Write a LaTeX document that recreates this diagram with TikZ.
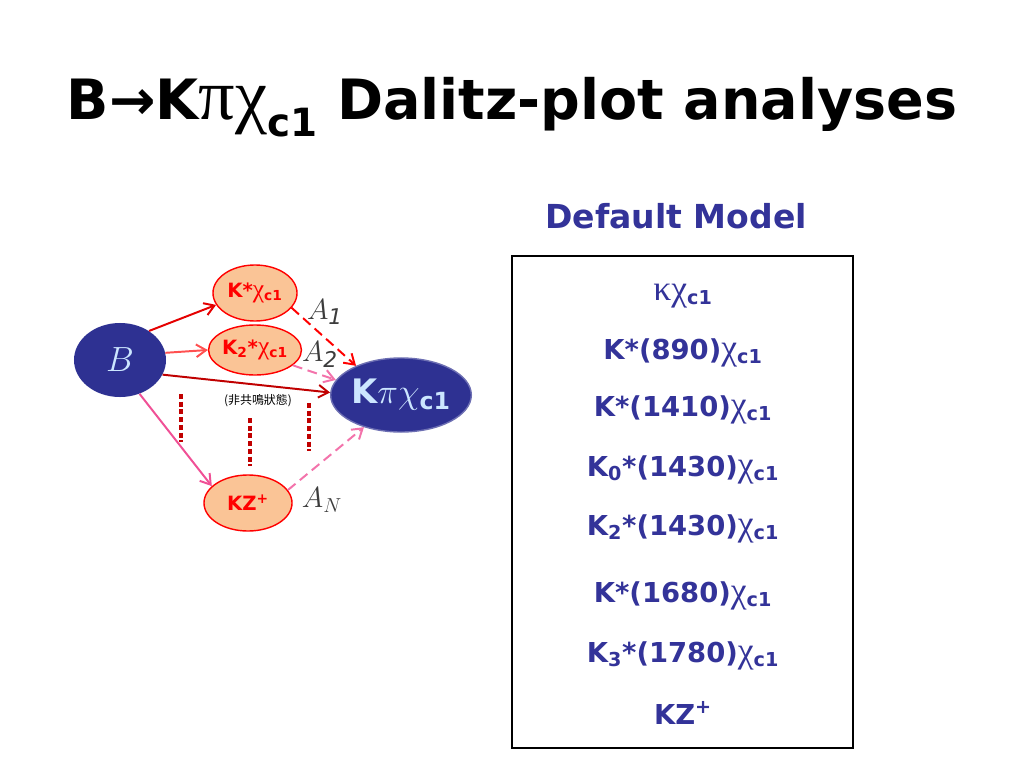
\documentclass[tikz,border=0pt]{standalone}
\usepackage{fontspec}
\setmainfont{DejaVu Sans}
\newfontfamily\grkfont[Scale=1.3]{Liberation Serif}
\newfontfamily\cjkfont{Noto Sans CJK TC}
\usepackage{tikz}
\usetikzlibrary{shapes.geometric,arrows.meta,positioning}

\definecolor{ovalblue}{RGB}{46,49,146}
\definecolor{iceblue}{RGB}{204,230,255}
\definecolor{peach}{RGB}{250,196,150}
\definecolor{modelblue}{RGB}{51,51,153}
\definecolor{ampgray}{RGB}{60,60,60}
\definecolor{darkred}{RGB}{192,0,0}
\definecolor{lightred}{RGB}{255,80,80}
\definecolor{hotpink}{RGB}{240,80,150}

\newcommand{\chic}{{\grkfont\mdseries χ}\textsubscript{c1}}

\begin{document}
\begin{tikzpicture}[x=0.025cm, y=-0.025cm,
    reso/.style={ellipse, draw=red, line width=1pt, fill=peach, inner sep=0pt, text=red, font=\bfseries\fontsize{14}{17}\selectfont},
    blob/.style={ellipse, fill=ovalblue, inner sep=0pt, text=iceblue},
    entry/.style={anchor=base, text=modelblue, font=\bfseries\fontsize{19.5}{23}\selectfont},
    amp/.style={text=ampgray, font=\fontsize{22}{26}\selectfont},
    arrow/.style={-{Straight Barb[length=7pt,width=9pt]}, line width=1.4pt},
    darrow/.style={arrow, dash pattern=on 7pt off 4pt},
    dots/.style={line width=3.5pt, dash pattern=on 3.5pt off 2pt, darkred}
]
\useasboundingbox[fill=white] (0,0) rectangle (1024,768);

% Title
\node[anchor=base, font=\bfseries\fontsize{39.5}{48}\selectfont] (title) at (512,120)
    {B→K{\grkfont\mdseries π}\chic{} Dalitz-plot analyses};

% Left: decay diagram
\node[blob, minimum width=2.3cm, minimum height=1.85cm] (B) at (120,360) {\fontsize{27}{30}\selectfont$B$};
\node[reso, minimum width=2.1cm, minimum height=1.4cm] (K1) at (255,293) {K*\chic};
\node[reso, minimum width=2.1cm, minimum height=1.25cm] (K2) at (255,350) {K\textsubscript{2}*\chic};
\node[reso, minimum width=2.2cm, minimum height=1.4cm] (KZ) at (248,503) {KZ\textsuperscript{+}};
\node[blob, draw=ovalblue!70!white, line width=1pt, minimum width=3cm, minimum height=1.85cm] (Kpi) at (401,395)
    {\bfseries\fontsize{24}{28}\selectfont K$\pi\chi$\textsubscript{c1}};

\node[amp] (a1) at (325,312) {$A_{\mathit 1}$};
\node[amp] (a2) at (320,355) {$A_{\mathit 2}$};
\node[amp] (aN) at (322,500) {$A_N$};
\node[font=\cjkfont\fontsize{8.5}{10}\selectfont] (nonres) at (258,401) {(非共鳴狀態)};

% Decay arrows
\draw[arrow, red!90!black] (B.45) -- (K1.197);
\draw[arrow, lightred] (B.9) -- (K2.180);
\draw[arrow, darkred] (B.-19) -- (Kpi.178);
\draw[arrow, hotpink] (B.-60) -- (KZ.155);
\draw[darrow, red] (K1.-22) -- (Kpi.147);
\draw[darrow, hotpink!80!white] (K2.-22) -- (Kpi.167);
\draw[darrow, hotpink!80!white] (KZ.18) -- (Kpi.221);

% More resonances
\draw[dots] (181,394) -- (181,442);
\draw[dots] (250,418) -- (250,466);
\draw[dots] (309,403) -- (309,451);

% Right: default model
\node[anchor=base, text=modelblue, font=\bfseries\fontsize{23.5}{28}\selectfont] (head) at (676,228) {Default Model};
\node[draw, line width=1.5pt, minimum width=8.525cm, minimum height=12.3cm] (box) at (682.5,502) {};

\node[entry] (m1) at (683,300) {{\grkfont\mdseries κ}\chic};
\node[entry] (m2) at (683,359) {K*(890)\chic};
\node[entry] (m3) at (683,416) {K*(1410)\chic};
\node[entry] (m4) at (683,476) {K\textsubscript{0}*(1430)\chic};
\node[entry] (m5) at (683,535) {K\textsubscript{2}*(1430)\chic};
\node[entry] (m6) at (683,602) {K*(1680)\chic};
\node[entry] (m7) at (683,662) {K\textsubscript{3}*(1780)\chic};
\node[entry] (m8) at (683,724) {KZ\textsuperscript{+}};

\end{tikzpicture}
\end{document}
